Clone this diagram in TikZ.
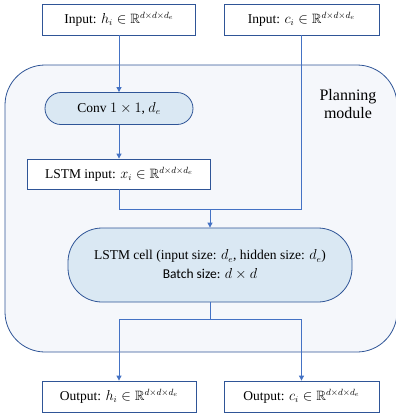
\documentclass[tikz,border=0pt]{standalone}
\usepackage{amssymb}
\usepackage{fontspec}
\setmainfont{Liberation Serif}
\usetikzlibrary{arrows.meta}
\definecolor{linkblue}{HTML}{4472C4}
\definecolor{edgeblue}{HTML}{2F5597}
\definecolor{cellfill}{HTML}{DAE8F3}
\definecolor{modfill}{HTML}{F5F7FB}
\tikzset{io/.style={draw=edgeblue,fill=white,line width=.8pt,minimum height=31pt,inner sep=0pt},
  op/.style={draw=edgeblue,fill=cellfill,line width=.8pt,inner sep=0pt,align=center},
  link/.style={draw=linkblue,line width=.9pt},
  flow/.style={link,-{Triangle[length=5pt,width=5pt]}}}
\begin{document}
\begin{tikzpicture}[x=1pt,y=-1pt,font=\fontsize{13.5}{15}\selectfont]
  \useasboundingbox (0,0) rectangle (396,413);
  % planning module background
  \draw[edgeblue,fill=modfill,line width=.8pt,rounded corners=40pt] (5,65) rectangle (397,352);
  \node[align=center,font=\fontsize{16}{18}\selectfont] (plan) at (348,104) {Planning\\module};
  \node[io,minimum width=153pt] (inh) at (119,19.5) {Input: $h_i\in\mathbb{R}^{d\times d\times d_e}$};
  \node[io,minimum width=155pt] (inc) at (301.5,19.5) {Input: $c_i\in\mathbb{R}^{d\times d\times d_e}$};
  \node[op,minimum width=148pt,minimum height=32pt,rounded corners=16pt] (conv) at (119,108.5)
    {Conv $1\times1$, $d_e$};
  \node[io,minimum width=183pt,minimum height=30pt] (lin) at (119,174)
    {LSTM input: $x_i\in\mathbb{R}^{d\times d\times d_e}$};
  \node[op,minimum width=284pt,minimum height=74pt,rounded corners=34pt,font=\fontsize{13.5}{19}\selectfont] (cell) at (210,265)
    {LSTM cell (input size: $d_e$, hidden size: $d_e$)\\{\fontspec{Carlito}Batch size:} $d\times d$};
  \node[io,minimum width=154pt] (outh) at (119,396.5) {Output: $h_i\in\mathbb{R}^{d\times d\times d_e}$};
  \node[io,minimum width=155pt] (outc) at (301.5,396.5) {Output: $c_i\in\mathbb{R}^{d\times d\times d_e}$};
  \coordinate (j1) at (210,209);
  \coordinate (j2) at (210,319);
  % connectors
  \draw[flow] (inh) -- (conv);
  \draw[flow] (conv) -- (lin);
  \draw[link] (lin) |- (j1);
  \draw[link] (inc) |- (j1);
  \draw[flow] (j1) -- (cell);
  \draw[link] (cell) -- (j2);
  \draw[flow] (j2) -| (outh);
  \draw[flow] (j2) -| (outc);
\end{tikzpicture}
\end{document}
